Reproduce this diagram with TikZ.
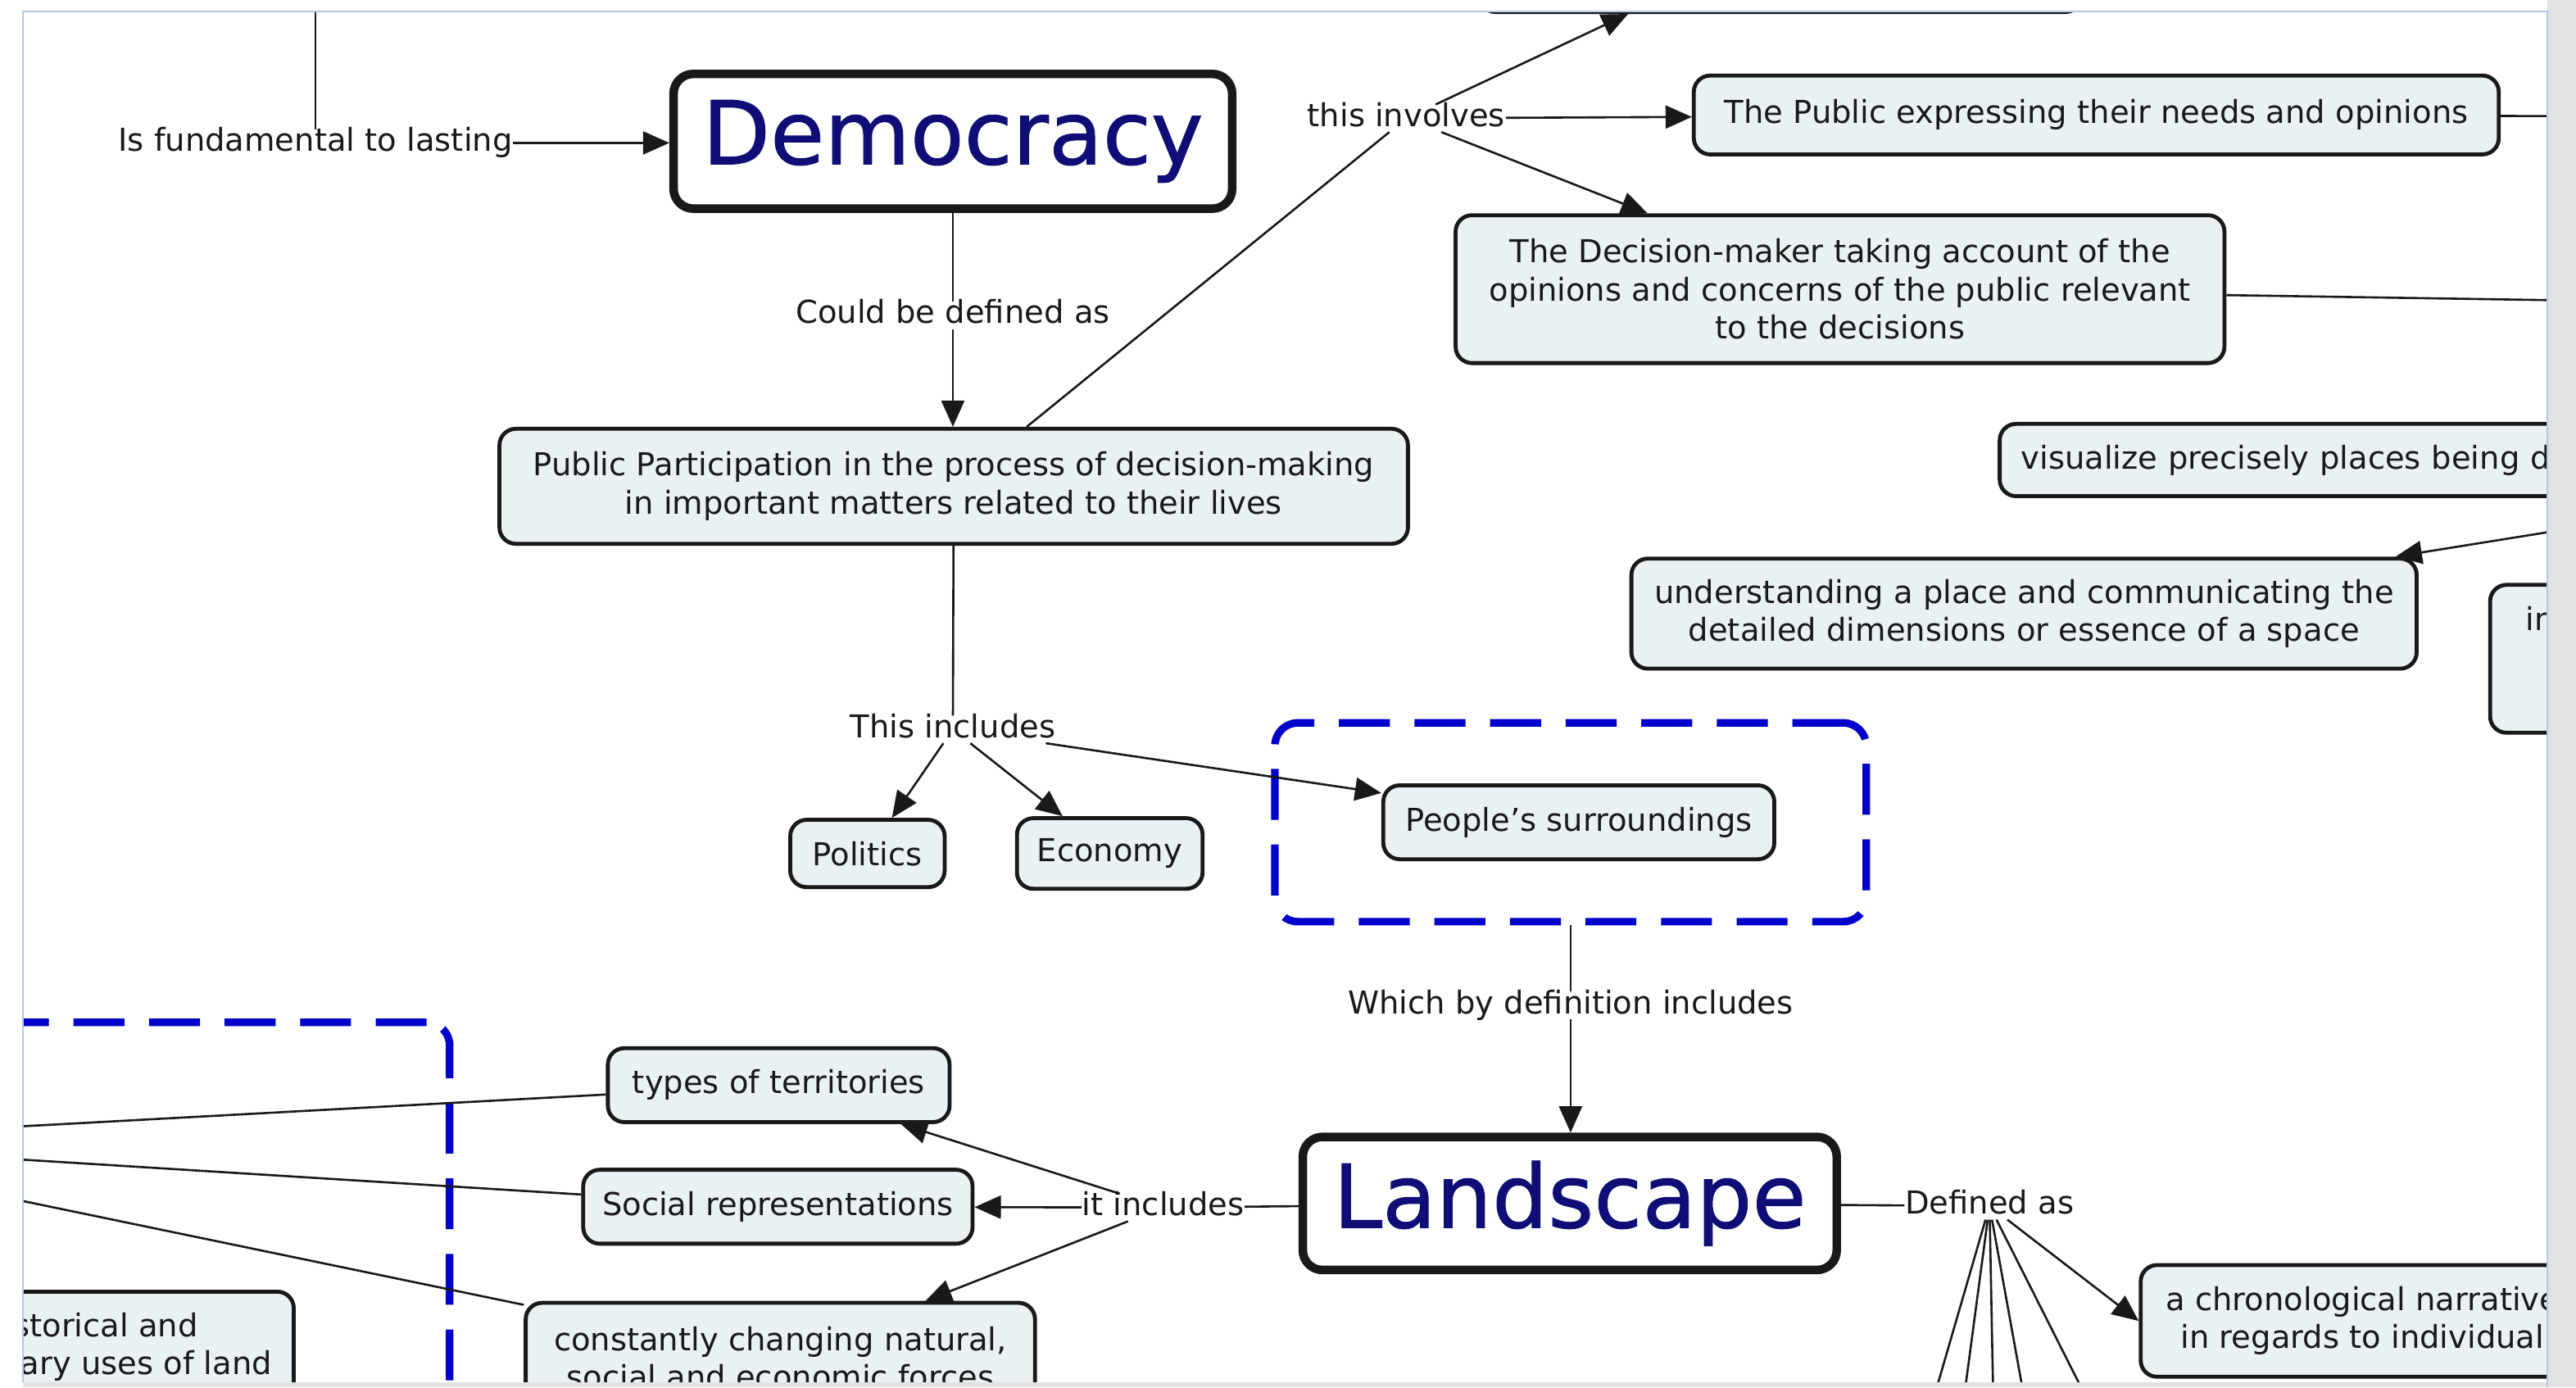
\documentclass[tikz,border=0pt]{standalone}
\usepackage{fontspec}
\setmainfont{DejaVu Sans}
\newfontface\bigface{DejaVu Sans}[FakeBold=0.9]
\usetikzlibrary{arrows.meta,calc}
\definecolor{boxfill}{RGB}{234,241,245}
\definecolor{navy}{RGB}{14,14,118}
\definecolor{dashblue}{RGB}{0,0,204}
\definecolor{framecol}{RGB}{176,200,228}
\definecolor{graybar}{RGB}{226,226,226}
\definecolor{ink}{RGB}{25,25,25}
\newcommand\fs{\fontsize{9.6pt}{11.6pt}\selectfont}
\newcommand\fbig{\bigface\fontsize{26.8pt}{30pt}\selectfont}
\begin{document}
\begin{tikzpicture}[x=0.5pt,y=-0.5pt,
 box/.style={draw=ink, fill=boxfill, line width=1.2pt, rounded corners=5pt, inner sep=0pt, align=center, font=\fs, text=ink},
 bigbox/.style={draw=ink, fill=white, line width=2.6pt, rounded corners=6pt, inner sep=0pt, font=\fbig, text=navy},
 lab/.style={inner sep=0pt, text height=6.5pt, text depth=1.5pt, font=\fs, text=ink},
 conn/.style={draw=ink, line width=0.65pt},
 arr/.style={conn, -{Triangle[length=8pt,width=7pt]}},
 grpbox/.style={draw=dashblue, line width=2.3pt, dash pattern=on 15.5pt off 7.5pt, rounded corners=7pt, inner sep=0pt},
]
\fill[white] (0,0) rectangle (1568,844.4);
\useasboundingbox (0,0) rectangle (1568,844.4);

\begin{scope}
\clip (14,7) rectangle (1550,841.5);

% off-screen anchors
\coordinate (topL) at (192,-40);
\coordinate (offR1) at (1700,71);
\coordinate (offR2) at (1700,185);
\coordinate (offR3) at (1700,300);
\coordinate (offL) at (-160,695);
\coordinate (f1) at (1162.8,900);
\coordinate (f2) at (1188.9,900);
\coordinate (f3) at (1214.2,900);
\coordinate (f4) at (1241,900);
\coordinate (f5) at (1294.8,900);

% group boxes
\node[grpbox, minimum width=180pt, minimum height=60.5pt] (grp) at (956,500.5) {};
\node[grpbox, anchor=north east, minimum width=200pt, minimum height=150pt] (grpL) at (276,620) {};

% concepts
\node[bigbox, minimum width=170pt, minimum height=41pt] (dem) at (580,86) {Democracy};
\node[box, minimum width=276.5pt, minimum height=35pt] (pp) at (580.5,296) {Public Participation in the process of decision-making\\in important matters related to their lives};
\node[box, anchor=south west, minimum width=183.5pt, minimum height=30pt] (topbox) at (899,8.5) {};
\node[box, minimum width=245pt, minimum height=24pt] (pub) at (1276,70) {The Public expressing their needs and opinions};
\node[box, minimum width=234pt, minimum height=45pt] (dm) at (1120,176) {The Decision-maker taking account of the\\opinions and concerns of the public relevant\\to the decisions};
\node[box, anchor=west, minimum height=22pt, text width=240pt, inner xsep=6.5pt, align=left] (vis) at (1216,280) {visualize precisely places being de};
\node[box, minimum width=239pt, minimum height=33.5pt] (und) at (1232,373.5) {understanding a place and communicating the\\detailed dimensions or essence of a space};
\node[box, anchor=west, minimum width=100pt, minimum height=45pt] (inb) at (1514.5,401) {};
\node[lab, anchor=base west] (inT) at (1537,384) {in};
\node[box, minimum width=47pt, minimum height=20.5pt] (pol) at (528,519.5) {Politics};
\node[box, minimum width=56.5pt, minimum height=21.5pt] (eco) at (675.5,519.5) {Economy};
\node[box, minimum width=119pt, minimum height=22.5pt] (ps) at (961,500.5) {People's surroundings};
\node[bigbox, minimum width=162.5pt, minimum height=40.5pt] (land) at (955.5,732.5) {Landscape};
\node[box, minimum width=104pt, minimum height=22.5pt] (tt) at (474,660.5) {types of territories};
\node[box, minimum width=118.5pt, minimum height=22.5pt] (sr) at (473.5,734.5) {Social representations};
\node[box, minimum width=155pt, minimum height=33.5pt] (cc) at (475,826.5) {constantly changing natural,\\social and economic forces};
\node[box, anchor=north east, minimum width=150pt, minimum height=40pt] (hist) at (180,785) {};
\node[lab, anchor=base east] (histA) at (121,813.5) {storical and};
\node[lab, anchor=base east] (histB) at (166,836.5) {ary uses of land};
\node[box, minimum width=135pt, minimum height=34pt] (chron) at (1438,804) {a chronological narrative\\in regards to individual};

% linking phrases
\node[lab] (lab1) at (192,87) {Is fundamental to lasting};
\node[lab] (lab2) at (580,192) {Could be defined as};
\node[lab] (lab3) at (856,72) {this involves};
\node[lab] (lab4) at (580,444) {This includes};
\node[lab] (lab5) at (956,612) {Which by definition includes};
\node[lab] (lab6) at (708,735) {it includes};
\node[lab] (lab7) at (1211,734) {Defined as};

% connectors
\draw[conn] (topL) -- (lab1);
\draw[arr] (lab1) -- (lab1 -| dem.west);
\draw[conn] (dem) -- (lab2);
\draw[arr] (lab2) -- (lab2 |- pp.north);
\draw[conn] (pp) -- (lab3);
\draw[arr] (lab3) -- ($(topbox.south west)+(92,0)$);
\draw[arr] (lab3) -- (pub);
\draw[arr] (lab3) -- (dm);
\draw[conn] (pub) -- (offR1);
\draw[conn] (dm) -- (offR2);
\draw[arr] (offR3) -- ($(und.north east)+(-14,0)$);
\draw[conn] (pp) -- (lab4);
\draw[arr] (lab4) -- (pol);
\draw[arr] (lab4) -- (eco);
\draw[arr] (lab4) -- (ps);
\draw[conn] (grp) -- (lab5);
\draw[arr] (lab5) -- (lab5 |- land.north);
\draw[conn] (land) -- (lab6);
\draw[arr] (lab6) -- (sr);
\draw[arr] (lab6) -- (tt);
\draw[arr] (lab6) -- (cc);
\draw[conn] (land) -- (lab7);
\draw[arr] (lab7) -- (chron.west);
\draw[conn] (lab7) -- (f1);
\draw[conn] (lab7) -- (f2);
\draw[conn] (lab7) -- (f3);
\draw[conn] (lab7) -- (f4);
\draw[conn] (lab7) -- (f5);
\draw[conn] (offL) -- (tt);
\draw[conn] (offL) -- (sr);
\draw[conn] (offL) -- (cc);
\end{scope}

% window frame
\fill[graybar] (1550.5,0) rectangle (1568,844.4);
\fill[graybar] (14,841.5) rectangle (1550.5,844.4);
\draw[framecol, line width=0.6pt] (14,841.5) -- (14,7) -- (1550.5,7) -- (1550.5,844.4);
\end{tikzpicture}
\end{document}
